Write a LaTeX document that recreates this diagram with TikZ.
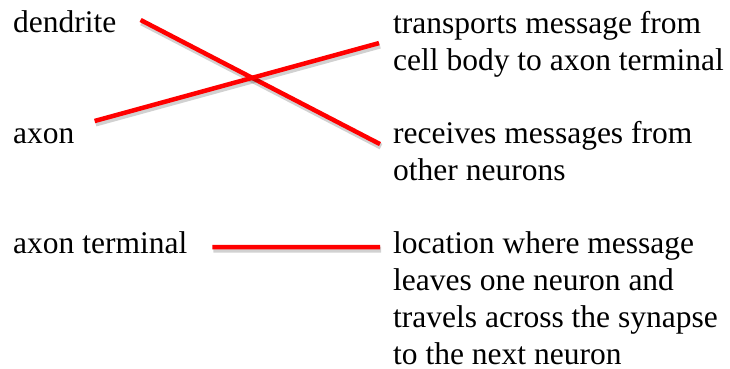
\documentclass[tikz,border=0pt]{standalone}
\usepackage{fontspec}
\setmainfont{Liberation Serif}
\usepackage{tikz}
\usetikzlibrary{positioning, calc}
\definecolor{matchred}{RGB}{255, 0, 0}

\begin{document}
\begin{tikzpicture}[
    x=1pt, y=-1pt,
    term/.style={anchor=base west, inner sep=0pt, font=\fontsize{31.5}{37}\selectfont},
    desc/.style={anchor=north west, inner sep=0pt, align=left, font=\fontsize{31.5}{37}\selectfont},
    match/.style={line width=4.5pt, color=matchred,
        preaction={draw=black, draw opacity=0.18, line width=6pt, transform canvas={shift={(1pt,-2.5pt)}}}}
]
    \useasboundingbox (0,0) rectangle (730,369);

    \node[term] (dendrite) at (13,33) {dendrite};
    \node[term] (axon) at (13,143) {axon};
    \node[term] (terminal) at (13,253) {axon terminal};

    \node[desc] (transports) at (393,7.1) {\strut transports message from\\cell body to axon terminal};
    \node[desc] (receives) at (393,117.1) {\strut receives messages from\\other neurons};
    \node[desc] (location) at (393,227.1) {\strut location where message\\leaves one neuron and\\travels across the synapse\\to the next neuron};

    \draw[match] ([shift={(24,-13)}]dendrite.base east) -- ([shift={(-13,27)}]receives.north west);
    \draw[match] ([shift={(20,-22)}]axon.base east) -- ([shift={(-14,36)}]transports.north west);
    \draw[match] ([shift={(25,-6)}]terminal.base east) -- ([shift={(-13,20)}]location.north west);
\end{tikzpicture}
\end{document}
